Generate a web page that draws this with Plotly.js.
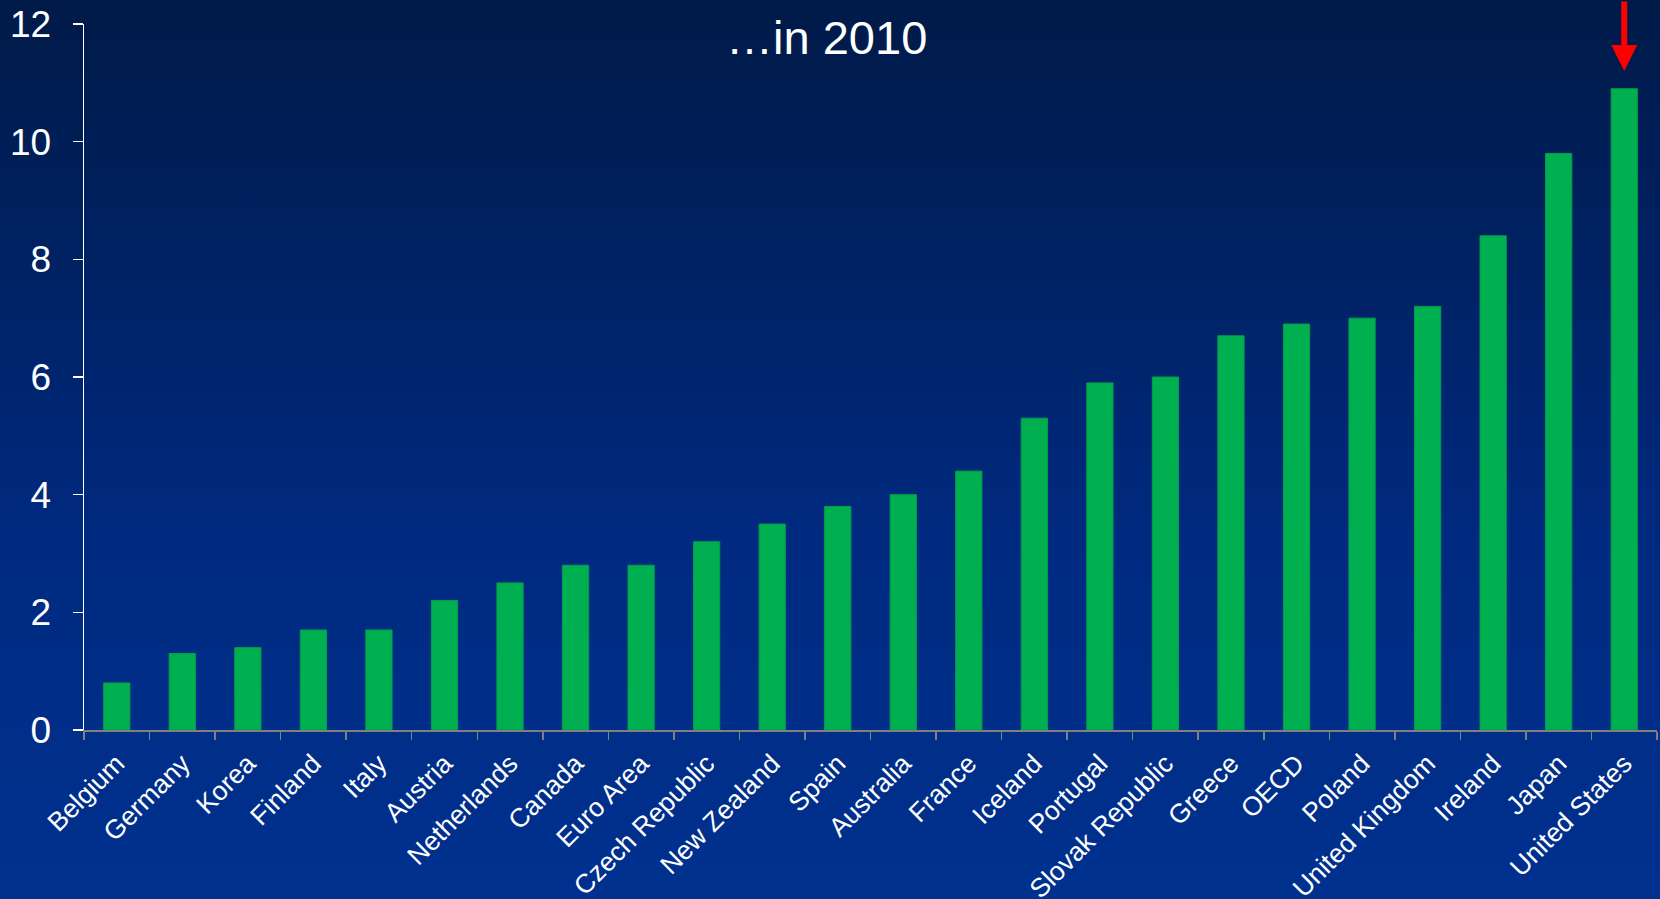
<!DOCTYPE html>
<html>
<head>
<meta charset="utf-8">
<script src="https://cdn.plot.ly/plotly-3.0.1.min.js"></script>
<style>
html, body { margin:0; padding:0; width:1660px; height:899px; overflow:hidden;
  background: linear-gradient(to bottom, #001a48 0%, #002a80 60%, #00318f 100%); }
#chart { width:1660px; height:899px; }
</style>
</head>
<body>
<div id="chart"></div>
<script>
const countries = ["Belgium","Germany","Korea","Finland","Italy","Austria","Netherlands","Canada","Euro Area","Czech Republic","New Zealand","Spain","Australia","France","Iceland","Portugal","Slovak Republic","Greece","OECD","Poland","United Kingdom","Ireland","Japan","United States"];
const values = [0.8,1.3,1.4,1.7,1.7,2.2,2.5,2.8,2.8,3.2,3.5,3.8,4.0,4.4,5.3,5.9,6.0,6.7,6.9,7.0,7.2,8.4,9.8,10.9];
const yTicks = [0,2,4,6,8,10,12];
const titleText = "…in 2010";
const highlight = "United States";
const arrowTipValue = 11.2;

const trace = {
  type: 'bar', x: countries, y: values,
  marker: {color: '#00b050', line: {color: '#00a04a', width: 1}},
  hoverinfo: 'x+y'
};

const layout = {
  width: 1660, height: 899,
  paper_bgcolor: 'rgba(0,0,0,0)', plot_bgcolor: 'rgba(0,0,0,0)',
  margin: {l: 84, r: 3, t: 24, b: 169},
  font: {family: 'Liberation Sans, Arial, sans-serif', color: '#ffffff'},
  bargap: 0.6,
  showlegend: false,
  title: {text: titleText, font: {size: 47, color: '#ffffff'}, xref: 'container', x: 0.498, xanchor: 'center', yref: 'container', y: 0.958, yanchor: 'middle'},
  xaxis: {
    type: 'category', showgrid: false, zeroline: false,
    showline: true, linecolor: '#808080', linewidth: 1.5,
    ticks: 'outside', tickson: 'boundaries', ticklen: 8, tickwidth: 1.5, tickcolor: '#808080',
    tickangle: -45, tickfont: {size: 26.5, color: '#ffffff'}, ticklabelstandoff: 6
  },
  yaxis: {
    range: [0, 12], tickvals: yTicks, ticktext: yTicks.map(String),
    showgrid: false, zeroline: false,
    showline: true, linecolor: '#ffffff', linewidth: 1.5,
    ticks: 'outside', ticklen: 10, tickwidth: 1.5, tickcolor: '#ffffff',
    tickfont: {size: 37, color: '#ffffff'}, ticklabelstandoff: 14
  },
  annotations: [{
    x: highlight, y: arrowTipValue, xref: 'x', yref: 'y',
    text: '', showarrow: true, ax: 0, ay: -80,
    arrowcolor: '#ff0000', arrowwidth: 6, arrowhead: 2, arrowsize: 0.87, standoff: 0
  }]
};

Plotly.newPlot('chart', [trace], layout, {displayModeBar: false, staticPlot: true});
</script>
</body>
</html>
